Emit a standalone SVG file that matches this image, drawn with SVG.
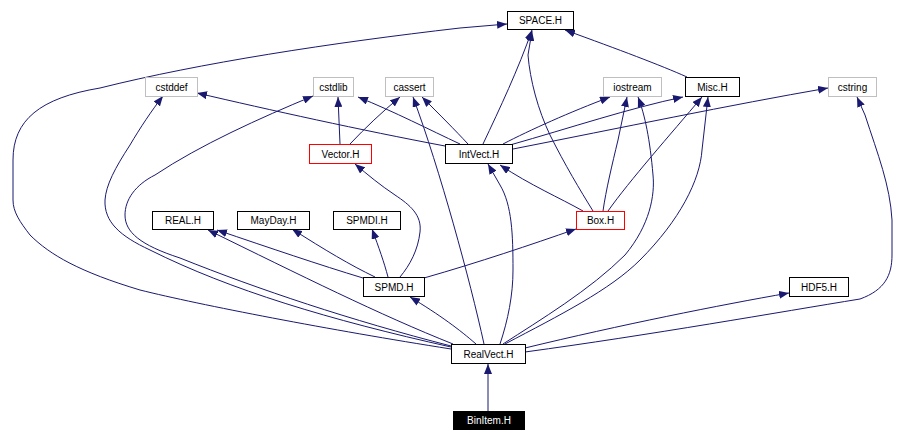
<svg xmlns="http://www.w3.org/2000/svg" width="921" height="442" viewBox="0 0 921 442">
<defs>
<marker id="ah" markerUnits="userSpaceOnUse" markerWidth="11" markerHeight="8" refX="10" refY="4" orient="auto">
<path d="M0,0 L10,4 L0,8 z" fill="#191970"/>
</marker>
<style>
.n rect{fill:#fff;stroke:#000;stroke-width:1}
.n.g rect{stroke:#bfbfbf}
.n.r rect{stroke:#ff0000}
.n.b rect{fill:#000}
.n text{font-family:"Liberation Sans",Arial,sans-serif;font-size:10px;text-anchor:middle;fill:#000}
.n.b text{fill:#fff}
#edges path{fill:none;stroke:#191970;stroke-width:1;marker-end:url(#ah)}
</style>
</defs>
<rect width="921" height="442" fill="#fff"/>
<g id="edges">
<path d="M488,411 L488,364"/>
<path d="M451,349 C330,330 200,305 140,290 C80,272 50,255 30,235 C20,222 13,212 13,200 L13,160 C13,120 40,98 100,88 C200,63 330,43 460,28 L507,24"/>
<path d="M451,347 C330,320 230,290 150,250 C120,236 104,222 105,200 C106,185 115,168 130,145 C140,128 152,110 163,96"/>
<path d="M451,346 C350,320 260,290 180,258 C140,245 125,232 125,215 C125,200 135,185 155,175 C200,145 260,118 313,96"/>
<path d="M453,344 C380,315 300,275 208,230"/>
<path d="M476,344 C460,330 440,315 410,297"/>
<path d="M484,344 C470,280 440,170 413,97"/>
<path d="M500,344 C508,320 513,295 513,270 C513,235 512,205 500,185 L488,164"/>
<path d="M503,344 C540,320 590,290 625,255 C650,225 655,195 653,175 C650,140 645,115 638,97"/>
<path d="M505,344 C560,315 610,290 640,260 C680,220 700,180 702,150 L708,97"/>
<path d="M525,348 C620,325 720,305 789,293"/>
<path d="M525,352 C650,335 780,312 860,299 C885,290 892,275 892,255 L892,220 C890,185 878,155 865,115 L857,97"/>
<path d="M340,144 L338,97"/>
<path d="M350,144 C365,128 382,112 400,97"/>
<path d="M445,146 C360,130 270,110 197,93"/>
<path d="M460,144 C430,130 395,112 358,97"/>
<path d="M468,144 C455,130 440,115 422,97"/>
<path d="M483,144 C500,108 518,70 532,30"/>
<path d="M503,144 C530,130 570,112 610,97"/>
<path d="M510,145 C570,128 630,108 683,97"/>
<path d="M513,149 C620,128 730,105 828,88"/>
<path d="M687,77 C660,65 620,50 565,30"/>
<path d="M583,211 C560,198 530,185 500,165"/>
<path d="M593,211 C580,190 565,165 550,135 C538,110 530,80 528,55 L532,31"/>
<path d="M603,211 C606,190 612,165 618,140 L627,97"/>
<path d="M608,211 C630,180 670,135 702,97"/>
<path d="M400,277 C410,265 418,250 420,232 C422,215 410,205 395,195 C380,185 368,175 355,164"/>
<path d="M363,278 C320,265 270,248 217,230"/>
<path d="M375,277 C350,265 325,250 292,229"/>
<path d="M388,277 C384,262 379,248 372,229"/>
<path d="M424,278 C480,262 530,245 576,229"/>
</g>
<g id="SPACE.H" class="n"><rect x="507.5" y="11.5" width="66" height="18"/><text x="540.5" y="24">SPACE.H</text></g>
<g id="cstddef" class="n g"><rect x="145.5" y="77.5" width="52" height="19"/><text x="171.5" y="91">cstddef</text></g>
<g id="cstdlib" class="n g"><rect x="313.5" y="77.5" width="40" height="19"/><text x="333.5" y="91">cstdlib</text></g>
<g id="cassert" class="n g"><rect x="385.5" y="77.5" width="48" height="19"/><text x="409.5" y="91">cassert</text></g>
<g id="iostream" class="n g"><rect x="603.5" y="77.5" width="58" height="19"/><text x="632.5" y="91">iostream</text></g>
<g id="Misc.H" class="n"><rect x="685.5" y="77.5" width="54" height="19"/><text x="712.5" y="91">Misc.H</text></g>
<g id="cstring" class="n g"><rect x="828.5" y="77.5" width="48" height="19"/><text x="852.5" y="91">cstring</text></g>
<g id="Vector.H" class="n r"><rect x="309.5" y="144.5" width="62" height="19"/><text x="340.5" y="158">Vector.H</text></g>
<g id="IntVect.H" class="n"><rect x="445.5" y="144.5" width="67" height="19"/><text x="479" y="158">IntVect.H</text></g>
<g id="REAL.H" class="n"><rect x="152.5" y="211.5" width="61" height="18"/><text x="183" y="224">REAL.H</text></g>
<g id="MayDay.H" class="n"><rect x="237.5" y="211.5" width="72" height="18"/><text x="273.5" y="224">MayDay.H</text></g>
<g id="SPMDI.H" class="n"><rect x="333.5" y="211.5" width="67" height="18"/><text x="367" y="224">SPMDI.H</text></g>
<g id="Box.H" class="n r"><rect x="576.5" y="211.5" width="48" height="18"/><text x="600.5" y="224">Box.H</text></g>
<g id="SPMD.H" class="n"><rect x="363.5" y="277.5" width="61" height="19"/><text x="394" y="291">SPMD.H</text></g>
<g id="HDF5.H" class="n"><rect x="789.5" y="277.5" width="59" height="19"/><text x="819" y="291">HDF5.H</text></g>
<g id="RealVect.H" class="n"><rect x="451.5" y="344.5" width="74" height="19"/><text x="488.5" y="358">RealVect.H</text></g>
<g id="BinItem.H" class="n b"><rect x="453.5" y="411.5" width="71" height="18"/><text x="489" y="424">BinItem.H</text></g>
</svg>
